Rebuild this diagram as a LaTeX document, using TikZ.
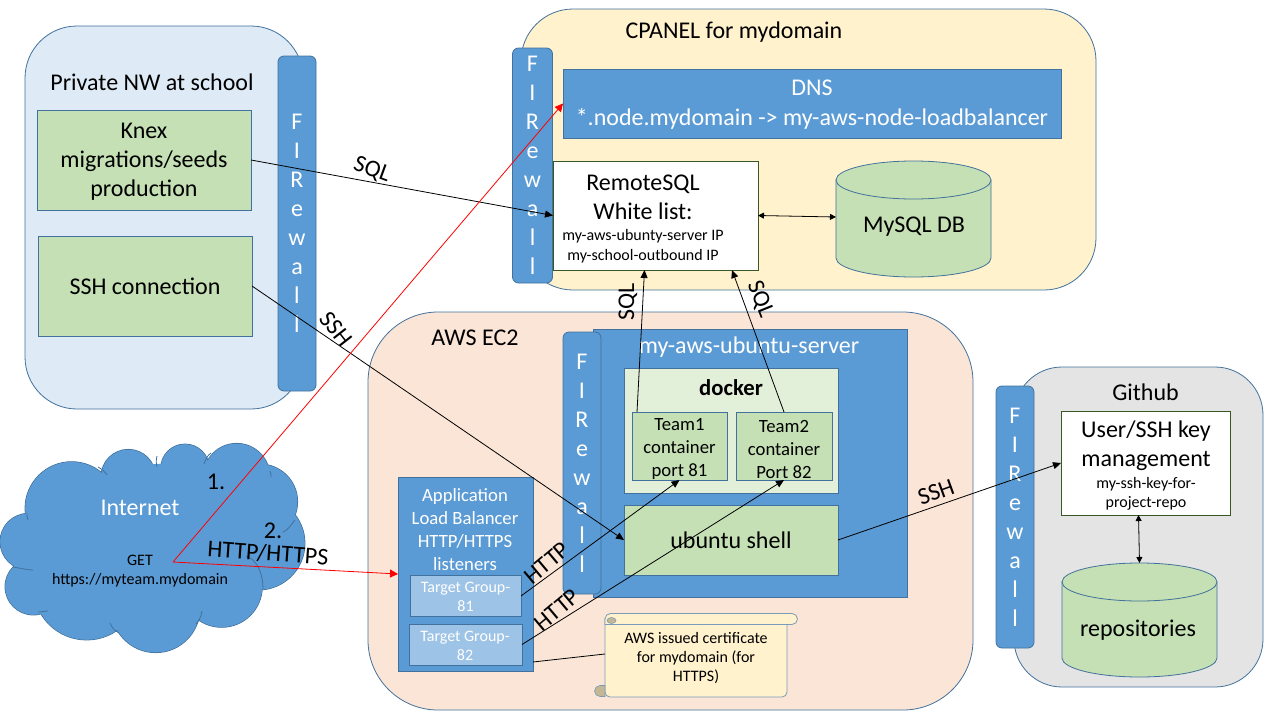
\documentclass[tikz,border=0pt]{standalone}
\usepackage{fontspec}
\setmainfont{Carlito}
\usetikzlibrary{arrows.meta}
\definecolor{blu}{HTML}{5B9BD5}
\definecolor{edg}{HTML}{41719C}
\definecolor{grn}{HTML}{C5E0B4}
\definecolor{peach}{HTML}{FBE5D6}
\definecolor{sky}{HTML}{DEEBF7}
\definecolor{yel}{HTML}{FFF2CC}
\definecolor{gry}{HTML}{E4E4E4}
\definecolor{dock}{HTML}{E2F0D9}
\definecolor{tg}{HTML}{9DC3E6}
\definecolor{dgrn}{HTML}{385723}
\definecolor{tan}{HTML}{C4B894}
\newcommand{\fsz}[2]{\fontsize{#1}{#2}\selectfont}
\tikzset{
  base/.style={inner sep=0pt,outer sep=0pt,align=center,line width=.8pt},
  area/.style={base,draw=edg,rounded corners=#1},
  bluebox/.style={base,draw=edg,fill=blu,text=white},
  greenbox/.style={base,draw=edg,fill=grn,text=black},
  tgbox/.style={base,draw=edg,fill=tg},
  whitebox/.style={base,draw=dgrn,fill=white,text=black},
  fwall/.style={base,draw=edg,fill=blu,text=white,rounded corners=6pt,font=\fsz{24}{29}},
  lbl/.style={base,text=black},
  wlbl/.style={base,text=white},
  conn/.style={line width=.8pt,draw=black,-{Triangle[length=8pt,width=7pt]}},
  conn2/.style={line width=.8pt,draw=black,{Triangle[length=6pt,width=6pt]}-{Triangle[length=6pt,width=6pt]}},
  redconn/.style={line width=.8pt,draw=red,-{Triangle[length=8pt,width=8pt]}},
  plain/.style={line width=.8pt,draw=black},
  cl/.style={fill=blu},
  cledge/.style={draw=edg,line width=.8pt,fill=blu},
  inarc/.style={draw=edg,line width=.8pt},
  scr/.style={draw=edg!70,line width=.8pt},
}
\newcommand{\fwtext}{F\\I\\R\\e\\w\\a\\l\\l}
% cylinder: cx, top y, half width, height, ry  (y axis points down, so angles run the other way)
\newcommand{\cyl}[5]{%
  \path[draw=edg,fill=grn,line width=.8pt] (#1-#3,#2+#5) -- (#1-#3,#2+#4-#5)
    arc[x radius=#3,y radius=#5,start angle=180,end angle=0]
    -- (#1+#3,#2+#5) -- cycle;
  \path[draw=edg,fill=grn,line width=.8pt] (#1,#2+#5) ellipse[x radius=#3,y radius=#5];
}
\begin{document}
\begin{tikzpicture}[x=1pt,y=-1pt]
\useasboundingbox (0,0) rectangle (1280,720);
% areas
\node[area=52pt,fill=sky,minimum width=278pt,minimum height=383pt] (school) at (164,217.5) {};
\node[area=52pt,fill=yel,minimum width=575pt,minimum height=281pt] (cpanel) at (808.5,149.5) {};
\node[area=70pt,fill=peach,minimum width=605pt,minimum height=398pt] (aws) at (670.5,511) {};
\node[area=48pt,fill=gry,minimum width=249pt,minimum height=320pt] (github) at (1138.5,527) {};
% area titles
\node[lbl,font=\fsz{24}{29}] (schoolt) at (152,82) {Private NW at school};
\node[lbl,font=\fsz{24}{29}] (cpanelt) at (734,32) {CPANEL for mydomain};
\node[lbl,font=\fsz{24}{29}] (awst) at (475,338) {AWS EC2};
\node[lbl,font=\fsz{24}{29}] (gitt) at (1145.5,392) {Github};
% school boxes
\node[greenbox,minimum width=214pt,minimum height=100pt] (knex) at (144,160) {};
\node[lbl,font=\fsz{24}{29}] (knext) at (144,162) {Knex\\migrations/seeds\\production};
\node[greenbox,minimum width=214pt,minimum height=100pt,font=\fsz{24}{29}] (sshc) at (145,286) {SSH connection};
% cpanel contents
\node[bluebox,minimum width=498pt,minimum height=69pt] (dns) at (812,103.5) {};
\node[wlbl,font=\fsz{24}{30}] (dnst) at (812,104.5) {DNS\\*.node.mydomain -> my-aws-node-loadbalancer};
\node[whitebox,minimum width=205pt,minimum height=109pt] (remote) at (655.5,215.5) {};
\node[lbl,font=\fsz{24}{29}] (remotet) at (643,197) {RemoteSQL\\White list:};
\node[lbl,font=\fsz{16}{19.5}] (remotes) at (643,246) {my-aws-ubunty-server IP\\my-school-outbound IP};
\cyl{913.5}{161}{77.5}{116}{19}
\node[base,minimum width=155pt,minimum height=116pt] (mysql) at (913.5,219) {};
\node[lbl,font=\fsz{24}{29}] (mysqlt) at (914,227) {MySQL DB};
% aws contents
\node[bluebox,minimum width=314pt,minimum height=268pt] (server) at (750,463) {};
\node[wlbl,font=\fsz{24}{29}] (servert) at (749,347) {my-aws-ubuntu-server};
\node[base,draw=edg,fill=dock,minimum width=214pt,minimum height=125pt] (docker) at (731,430.5) {};
\node[lbl,font=\bfseries\fsz{22.7}{27}] (dockert) at (731,388) {docker};
\node[greenbox,minimum width=95pt,minimum height=68pt] (team1) at (679.5,446) {};
\node[lbl,font=\fsz{18.7}{23}] (team1t) at (679.5,449) {Team1\\container\\port 81};
\node[greenbox,minimum width=96pt,minimum height=68pt] (team2) at (784,446) {};
\node[lbl,font=\fsz{18.7}{23}] (team2t) at (784,449) {Team2\\container\\Port 82};
\node[greenbox,minimum width=214pt,minimum height=70pt,font=\fsz{24}{29}] (shell) at (731,540) {ubuntu shell};
\node[bluebox,minimum width=135pt,minimum height=194pt] (lb) at (465.5,574) {};
\node[wlbl,font=\fsz{18.7}{23}] (lbt) at (465,529.5) {Application\\Load Balancer\\HTTP/HTTPS\\listeners};
\node[tgbox,minimum width=111pt,minimum height=41pt] (tg81) at (465.5,596) {};
\node[wlbl,font=\fsz{16}{19}] (tg81t) at (465.5,597) {Target Group-\\81};
\node[tgbox,minimum width=113pt,minimum height=41pt] (tg82) at (465.5,644.5) {};
\node[wlbl,font=\fsz{16}{19}] (tg82t) at (465,645.5) {Target Group-\\82};
% scroll
\path[scr,fill=yel,rounded corners=5pt] (605,618) -- (605,697) -- (787,697) -- (787,620);
\path[scr,fill=yel] (610,613.5) -- (792,613.5) arc[radius=5.5,start angle=-90,end angle=90] -- (605,624.5) -- (605,619) arc[radius=5.5,start angle=180,end angle=270] -- cycle;
\path[scr,fill=tan,line width=.6pt] (600,696.5) arc[radius=5.5,start angle=90,end angle=270] -- (605,685.5) -- (605,696.5) -- cycle;
\path[scr,fill=tan,line width=.6pt] (611.5,620.5) ellipse[x radius=4.5,y radius=3];
\node[base,minimum width=182pt,minimum height=73pt,font=\fsz{16}{19}] (cert) at (696,658) {AWS issued certificate\\for mydomain (for\\HTTPS)};
% github contents
\node[whitebox,minimum width=169pt,minimum height=104pt] (user) at (1145.5,463) {};
\node[lbl,font=\fsz{24}{29}] (usert) at (1146,445.5) {User/SSH key\\management};
\node[lbl,font=\fsz{16}{19}] (users) at (1146,494) {my-ssh-key-for-\\project-repo};
\cyl{1139.5}{563}{77.5}{114}{19}
\node[base,minimum width=155pt,minimum height=114pt] (repos) at (1139.5,620) {};
\node[lbl,font=\fsz{24}{29}] (repost) at (1138,630) {repositories};
% firewalls
\node[fwall,minimum width=38pt,minimum height=335pt] (fw1) at (297,223.5) {\fwtext};
\node[fwall,minimum width=40pt,minimum height=235pt] (fw2) at (532.5,165.5) {\fwtext};
\node[fwall,minimum width=38pt,minimum height=262pt] (fw3) at (582,463) {\fwtext};
\node[fwall,minimum width=38pt,minimum height=262pt] (fw4) at (1015,517) {\fwtext};
% cloud
\foreach \cx/\cy/\r in {215/235/140,385/140/82,555/115/73,710/140/100,780/215/113,775/340/140,665/470/122,467/535/133,260/470/160,100/470/85,85/335/85}{
  \path[cledge] ({\cx/3},{430+\cy/3}) circle[radius=\r/3];
}
\foreach \cx/\cy/\r in {215/235/140,385/140/82,555/115/73,710/140/100,780/215/113,775/340/140,665/470/122,467/535/133,260/470/160,100/470/85,85/335/85,430/320/220,620/300/190,480/230/130,300/340/170}{
  \path[cl] ({\cx/3},{430+\cy/3}) circle[radius=\r/3-.4];
}
\path[inarc] (98,467) .. controls (102,469) and (105,472) .. (107,475);
\path[inarc] (157,456) .. controls (156,460) and (156,463) .. (157,467);
\path[inarc] (204,464) .. controls (206,458) and (208,455) .. (211,453);
\path[inarc] (270,471) .. controls (271,473) and (271,475) .. (271,477);
\path[inarc] (295,520) .. controls (290,526) and (288,530) .. (283,532);
\path[inarc] (246,556) .. controls (258,560) and (263,575) .. (263,589);
\path[inarc] (202,611) .. controls (201,618) and (198,622) .. (196,624);
\path[inarc] (110,623) .. controls (112,628) and (115,631) .. (119,633);
\path[inarc] (38,612) .. controls (41,612) and (45,611) .. (48,611);
\path[inarc] (13,567) .. controls (20,568) and (27,570) .. (33,570);
\path[inarc] (27,513) .. controls (27,516) and (27,518) .. (28,520);
% cloud texts
\node[wlbl,font=\fsz{24}{29}] (inet) at (140,508) {Internet};
\node[lbl,font=\fsz{16}{19}] (get) at (140,571.5) {GET\\https://myteam.mydomain};
\coordinate (getpt) at (173,562);
% connectors
\draw[conn] (knex.east) -- (remote.west);
\draw[conn] (sshc.east) -- (shell.west);
\draw[conn] ([xshift=5pt]team1.north west) -- ([xshift=-11pt]remote.south);
\draw[conn] (team2.north) -- ([xshift=-26pt]remote.south east);
\draw[conn2] (remote.east) -- ([yshift=2pt]mysql.west);
\draw[conn] (tg81.east) -- (team1.south);
\draw[conn] (tg82.east) -- (team2.south);
\draw[conn] (shell.east) -- (user.west);
\draw[conn2] (user.south) ++(-7pt,0pt) -- (repos.north);
\draw[plain] ([yshift=9pt]lb.south east) -- ([yshift=4pt]cert.west);
\draw[redconn] (getpt) -- (dns.west);
\draw[redconn] (getpt) -- (lb.west);
% connector labels
\node[lbl,font=\fsz{24}{29},rotate=-20] (lsql1) at (372,170) {SQL};
\node[lbl,font=\fsz{24}{29},rotate=-52] (lssh1) at (336,329) {SSH};
\node[lbl,font=\fsz{24}{29},rotate=90] (lsql2) at (628,302) {SQL};
\node[lbl,font=\fsz{24}{29},rotate=-68] (lsql3) at (760,299) {SQL};
\node[lbl,font=\fsz{24}{29},rotate=40] (lh1) at (547,563) {HTTP};
\node[lbl,font=\fsz{24}{29},rotate=40] (lh2) at (557,610) {HTTP};
\node[lbl,font=\fsz{24}{29},rotate=20] (lssh2) at (936,492) {SSH};
\node[lbl,font=\fsz{24}{29}] (l1) at (216,482) {1.};
\node[lbl,font=\fsz{24}{29}] (l2) at (273,531) {2.};
\node[lbl,font=\fsz{24}{29},rotate=-4] (lhh) at (268,553) {HTTP/HTTPS};
\end{tikzpicture}
\end{document}
